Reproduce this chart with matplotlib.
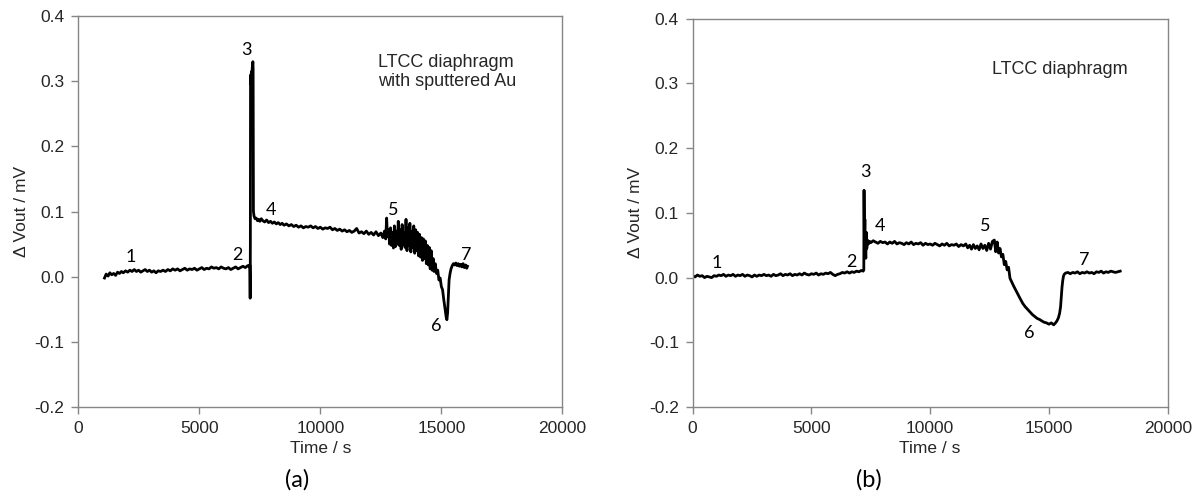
import matplotlib
matplotlib.use('Agg')
import matplotlib.pyplot as plt
from matplotlib.ticker import FormatStrFormatter

plt.rcParams['font.family'] = ['Liberation Sans', 'DejaVu Sans']
plt.rcParams['axes.unicode_minus'] = False

# panel (a): LTCC diaphragm with sputtered Au
time_a = [1080, 1150, 1230, 1300, 1380, 1460, 1540, 1620, 1700, 1780, 1860, 1950,
          2040, 2130, 2220, 2310, 2400, 2490, 2580, 2670, 2760, 2850, 2940, 3030,
          3120, 3210, 3300, 3400, 3500, 3600, 3700, 3800, 3900, 4000, 4100, 4200,
          4300, 4400, 4500, 4600, 4700, 4800, 4900, 5000, 5100, 5200, 5300, 5400,
          5500, 5600, 5700, 5800, 5900, 6000, 6100, 6200, 6300, 6400, 6500, 6600,
          6700, 6800, 6900, 7000, 7060, 7085, 7092, 7100, 7108, 7115, 7125, 7140,
          7155, 7170, 7185, 7200, 7212, 7222, 7235, 7260, 7300, 7350, 7400, 7450,
          7500, 7560, 7620, 7700, 7780, 7860, 7940, 8020, 8100, 8180, 8260, 8340,
          8420, 8500, 8600, 8700, 8800, 8900, 9000, 9100, 9200, 9300, 9400, 9500,
          9600, 9700, 9800, 9900, 10000, 10100, 10200, 10300, 10400, 10500, 10600,
          10700, 10800, 10900, 11000, 11100, 11200, 11300, 11400, 11500, 11600,
          11700, 11800, 11900, 12000, 12100, 12200, 12300, 12400, 12500, 12580,
          12650, 12700, 12740, 12770, 12820, 12860, 12900, 12940, 12980, 13020,
          13060, 13100, 13140, 13180, 13220, 13260, 13300, 13340, 13380, 13420,
          13460, 13500, 13540, 13580, 13620, 13660, 13700, 13740, 13780, 13820,
          13860, 13900, 13940, 13980, 14020, 14060, 14100, 14140, 14180, 14220,
          14260, 14300, 14340, 14380, 14420, 14460, 14500, 14540, 14580, 14620,
          14660, 14700, 14750, 14800, 14850, 14900, 14950, 15000, 15050, 15100,
          15150, 15200, 15230, 15260, 15290, 15320, 15360, 15400, 15450, 15500,
          15550, 15600, 15650, 15700, 15750, 15800, 15850, 15900, 15950, 16000,
          16050, 16080]
vout_a = [-0.002, 0.004, 0.001, 0.006, 0.003, 0.005, 0.002, 0.007, 0.005, 0.008,
          0.006, 0.009, 0.007, 0.010, 0.008, 0.011, 0.008, 0.010, 0.007, 0.009,
          0.011, 0.008, 0.010, 0.007, 0.009, 0.006, 0.009, 0.008, 0.010, 0.008,
          0.011, 0.009, 0.012, 0.010, 0.012, 0.009, 0.011, 0.013, 0.010, 0.012,
          0.011, 0.013, 0.010, 0.012, 0.014, 0.011, 0.013, 0.012, 0.015, 0.013,
          0.014, 0.012, 0.015, 0.013, 0.012, 0.014, 0.011, 0.013, 0.015, 0.012,
          0.014, 0.016, 0.014, 0.017, 0.015, 0.018, 0.000, -0.033, 0.050, 0.300,
          0.310, 0.295, 0.315, 0.300, 0.320, 0.325, 0.330, 0.320, 0.100, 0.093,
          0.089, 0.090, 0.086, 0.088, 0.085, 0.089, 0.086, 0.084, 0.087, 0.083,
          0.085, 0.082, 0.084, 0.081, 0.083, 0.080, 0.082, 0.079, 0.081, 0.078,
          0.080, 0.077, 0.079, 0.076, 0.078, 0.075, 0.077, 0.076, 0.078, 0.075,
          0.077, 0.074, 0.076, 0.073, 0.075, 0.074, 0.076, 0.072, 0.074, 0.071,
          0.073, 0.070, 0.072, 0.069, 0.071, 0.068, 0.070, 0.074, 0.067, 0.069,
          0.066, 0.070, 0.065, 0.068, 0.064, 0.069, 0.063, 0.067, 0.060, 0.070,
          0.058, 0.090, 0.062, 0.072, 0.050, 0.075, 0.048, 0.068, 0.044, 0.078,
          0.046, 0.070, 0.050, 0.085, 0.048, 0.072, 0.042, 0.080, 0.050, 0.068,
          0.045, 0.088, 0.040, 0.075, 0.048, 0.082, 0.038, 0.070, 0.045, 0.078,
          0.036, 0.072, 0.040, 0.068, 0.032, 0.065, 0.030, 0.060, 0.025, 0.058,
          0.028, 0.055, 0.020, 0.048, 0.018, 0.045, 0.012, 0.040, 0.010, 0.028,
          0.008, 0.020, 0.005, 0.010, -0.005, -0.002, -0.015, -0.020, -0.035,
          -0.048, -0.062, -0.066, -0.055, -0.030, -0.005, 0.005, 0.012, 0.017,
          0.020, 0.018, 0.021, 0.017, 0.020, 0.016, 0.019, 0.015, 0.020, 0.014,
          0.018, 0.013, 0.016]

# panel (b): LTCC diaphragm
time_b = [0, 100, 200, 300, 400, 500, 600, 700, 800, 900, 1000, 1100, 1200, 1300,
          1400, 1500, 1600, 1700, 1800, 1900, 2000, 2100, 2200, 2300, 2400, 2500,
          2600, 2700, 2800, 2900, 3000, 3100, 3200, 3300, 3400, 3500, 3600, 3700,
          3800, 3900, 4000, 4100, 4200, 4300, 4400, 4500, 4600, 4700, 4800, 4900,
          5000, 5100, 5200, 5300, 5400, 5500, 5600, 5700, 5800, 5900, 6000, 6100,
          6200, 6300, 6400, 6500, 6600, 6700, 6800, 6900, 7000, 7100, 7180, 7205,
          7215, 7230, 7250, 7270, 7290, 7310, 7330, 7360, 7400, 7450, 7500, 7600,
          7700, 7800, 7900, 8000, 8100, 8200, 8300, 8400, 8500, 8600, 8700, 8800,
          8900, 9000, 9100, 9200, 9300, 9400, 9500, 9600, 9700, 9800, 9900, 10000,
          10100, 10200, 10300, 10400, 10500, 10600, 10700, 10800, 10900, 11000,
          11100, 11200, 11300, 11400, 11500, 11580, 11660, 11740, 11820, 11900,
          11980, 12060, 12140, 12220, 12300, 12380, 12460, 12540, 12620, 12700,
          12760, 12820, 12880, 12940, 13000, 13060, 13120, 13180, 13240, 13300,
          13360, 13500, 13640, 13781, 13900, 14000, 14100, 14200, 14300, 14400,
          14500, 14620, 14700, 14800, 14900, 15000, 15100, 15200, 15300, 15350,
          15400, 15450, 15490, 15520, 15550, 15580, 15610, 15640, 15700, 15800,
          15900, 16000, 16100, 16200, 16300, 16400, 16500, 16600, 16700, 16800,
          16900, 17000, 17100, 17200, 17300, 17400, 17500, 17600, 17700, 17800,
          17900, 18000]
vout_b = [0.003, 0.001, 0.004, 0.002, 0.003, 0.000, 0.002, 0.001, 0.000, 0.003,
          0.002, 0.004, 0.003, 0.005, 0.002, 0.004, 0.003, 0.005, 0.002, 0.004,
          0.003, 0.005, 0.002, 0.004, 0.003, 0.001, 0.004, 0.002, 0.004, 0.003,
          0.005, 0.003, 0.004, 0.002, 0.005, 0.003, 0.004, 0.006, 0.003, 0.005,
          0.004, 0.006, 0.003, 0.005, 0.004, 0.006, 0.004, 0.007, 0.005, 0.004,
          0.006, 0.005, 0.007, 0.004, 0.006, 0.005, 0.007, 0.006, 0.008, 0.005,
          0.003, 0.005, 0.006, 0.008, 0.007, 0.009, 0.007, 0.009, 0.008, 0.010,
          0.009, 0.011, 0.010, 0.012, 0.135, 0.060, 0.090, 0.045, 0.030, 0.070,
          0.045, 0.058, 0.052, 0.056, 0.054, 0.057, 0.055, 0.053, 0.056, 0.054,
          0.055, 0.052, 0.055, 0.053, 0.056, 0.052, 0.054, 0.053, 0.051, 0.054,
          0.052, 0.055, 0.051, 0.053, 0.052, 0.054, 0.050, 0.053, 0.051, 0.052,
          0.050, 0.053, 0.051, 0.049, 0.052, 0.050, 0.053, 0.049, 0.051, 0.050,
          0.052, 0.048, 0.051, 0.049, 0.052, 0.046, 0.050, 0.044, 0.051, 0.045,
          0.049, 0.043, 0.052, 0.045, 0.050, 0.042, 0.053, 0.044, 0.056, 0.058,
          0.040, 0.055, 0.038, 0.045, 0.032, 0.036, 0.020, 0.025, 0.012, 0.016,
          -0.001, -0.012, -0.022, -0.032, -0.040, -0.045, -0.049, -0.053, -0.057,
          -0.060, -0.063, -0.065, -0.067, -0.069, -0.070, -0.072, -0.070, -0.073,
          -0.069, -0.066, -0.062, -0.055, -0.045, -0.030, -0.015, -0.005, 0.002,
          0.005, 0.007, 0.008, 0.006, 0.008, 0.007, 0.009, 0.006, 0.008, 0.007,
          0.009, 0.007, 0.008, 0.006, 0.009, 0.008, 0.010, 0.007, 0.009, 0.008,
          0.010, 0.009, 0.008, 0.009, 0.010]

point_labels = ['1', '2', '3', '4', '5', '6', '7']
label_pos_a = [(2150, 0.031), (6580, 0.033), (6940, 0.348), (7960, 0.102),
               (13020, 0.102), (14810, -0.075), (16040, 0.033)]
label_pos_b = [(995, 0.023), (6690, 0.024), (7280, 0.163), (7890, 0.079),
               (12330, 0.079), (14180, -0.085), (16470, 0.027)]

spine_grey = '#868686'
text_col = '#262626'


def style_axes(ax):
    ax.set_xlim(0, 20000)
    ax.set_ylim(-0.2, 0.4)
    ax.set_xticks([0, 5000, 10000, 15000, 20000])
    ax.set_yticks([-0.2, -0.1, 0.0, 0.1, 0.2, 0.3, 0.4])
    ax.yaxis.set_major_formatter(FormatStrFormatter('%.1f'))
    for s in ax.spines.values():
        s.set_color(spine_grey)
        s.set_linewidth(1.0)
    ax.tick_params(direction='out', length=5, width=1.0, color=spine_grey,
                   labelsize=12.5, labelcolor=text_col, pad=5)
    ax.set_xlabel('Time / s', fontsize=12.5, color=text_col, labelpad=4)
    ax.set_ylabel('\u0394 Vout / mV', fontsize=12.5, color=text_col, labelpad=4)


def add_labels(ax, positions):
    for txt, (x, y) in zip(point_labels, positions):
        ax.text(x, y, txt, fontsize=13, family=['Lato', 'DejaVu Sans'],
                ha='center', va='center')


fig = plt.figure(figsize=(11.98, 4.93), dpi=100)
ax_a = fig.add_axes([0.0654, 0.1744, 0.404, 0.793])
ax_b = fig.add_axes([0.5782, 0.1744, 0.3965, 0.7875])

ax_a.plot(time_a, vout_a, color='black', lw=2.0)
style_axes(ax_a)
add_labels(ax_a, label_pos_a)
ax_a.text(12400, 0.314, 'LTCC diaphragm\nwith sputtered Au', fontsize=13,
          ha='left', va='center', multialignment='left', linespacing=1.1,
          color=text_col)

ax_b.plot(time_b, vout_b, color='black', lw=2.0)
style_axes(ax_b)
add_labels(ax_b, label_pos_b)
ax_b.text(12620, 0.322, 'LTCC diaphragm', fontsize=13, ha='left',
          va='center', color=text_col)

fig.text(297 / 1198, 1 - 480 / 493, '(a)', fontsize=17, ha='center', va='center',
         family=['Lato', 'DejaVu Sans'])
fig.text(869 / 1198, 1 - 480 / 493, '(b)', fontsize=17, ha='center', va='center',
         family=['Lato', 'DejaVu Sans'])

fig.savefig('out.png', dpi=100)
